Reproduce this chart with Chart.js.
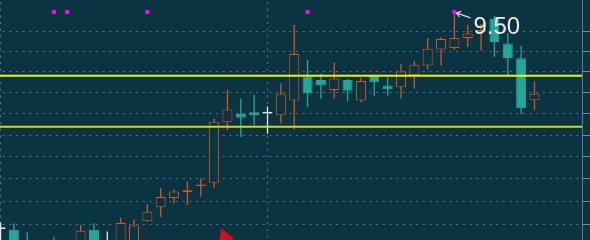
<!DOCTYPE html>
<html>
<head>
<meta charset="utf-8">
<script src="https://cdn.jsdelivr.net/npm/chart.js@4.4.0/dist/chart.umd.min.js"></script>
<style>
  html, body { margin: 0; padding: 0; background: #0a3441; }
  #wrap { width: 590px; height: 240px; }
</style>
</head>
<body>
<div id="wrap"><canvas id="chart" width="590" height="240"></canvas></div>
<script>
// candles, one per bar index
const opens  = [7.976, 7.965, 7.886, 7.873, 7.879, 7.789, 7.853, 7.965, 7.866, 7.879,
                7.873, 8.021, 8.112, 8.173, 8.213, 8.252, 8.275, 8.689, 8.748, 8.759,
                8.757, 8.738, 8.844, 9.017, 8.992, 8.918, 8.992, 8.843, 9.028, 8.952,
                8.938, 9.025, 9.098, 9.216, 9.226, 9.301, 9.348, 9.446, 9.260, 9.151,
                8.845];
const highs  = [8.014, 8.008, 7.950, 7.880, 7.923, 7.879, 7.997, 8.008, 7.955, 8.043,
                8.034, 8.132, 8.240, 8.231, 8.284, 8.304, 8.715, 8.921, 8.857, 8.885,
                8.800, 8.965, 9.401, 9.140, 9.037, 9.120, 8.999, 9.010, 9.030, 9.010,
                9.110, 9.132, 9.301, 9.307, 9.500, 9.401, 9.408, 9.469, 9.338, 9.241,
                8.981];
const lows   = [7.840, 7.828, 7.802, 7.763, 7.815, 7.763, 7.828, 7.841, 7.828, 7.853,
                7.860, 8.018, 8.049, 8.137, 8.127, 8.183, 8.238, 8.634, 8.586, 8.669,
                8.608, 8.680, 8.636, 8.795, 8.858, 8.858, 8.839, 8.832, 8.878, 8.879,
                8.858, 8.928, 9.066, 9.098, 9.213, 9.234, 9.206, 9.160, 9.025, 8.748,
                8.774];
const closes = [7.976, 7.860, 7.841, 7.802, 7.841, 7.853, 7.959, 7.866, 7.866, 8.010,
                7.993, 8.082, 8.179, 8.216, 8.225, 8.263, 8.692, 8.779, 8.721, 8.740,
                8.757, 8.892, 9.182, 8.895, 8.952, 9.002, 8.914, 8.983, 8.974, 8.924,
                9.054, 9.103, 9.221, 9.295, 9.301, 9.335, 9.363, 9.271, 9.153, 8.788,
                8.892];

// horizontal levels
const levels = [9.022, 8.657];

// signal markers
const signalX = [4, 5, 11, 23, 34];
const signalY = [9.50, 9.50, 9.50, 9.50, 9.50];

// sell arrow
const arrowX = [16.80];
const arrowY = [7.916];

// price label
const labelX = 34;
const labelY = 9.50;
const labelText = '9.50';

// axes
const yTicks = [8.00, 8.15, 8.30, 8.45, 8.60, 8.75, 8.90, 9.05, 9.20, 9.35];
const separators = [0, 20];
const yMin = 7.906, yMax = 9.592;
const xMin = -0.04, xMax = 43.56;

const BG = '#0a3441';
const UP = '#d5561f';
const DOWN = '#26a69a';
const DOJI = '#e8e6da';
const GRID = '#587680';

const idx = opens.map((_, i) => i);
const candleColor = idx.map(i => closes[i] > opens[i] ? UP : (closes[i] < opens[i] ? DOWN : DOJI));
const bodyFill = idx.map(i => closes[i] > opens[i] ? BG : candleColor[i]);
// a doji still gets a thin body line
const bodyRange = i => opens[i] === closes[i]
    ? [opens[i] * 0.99935, opens[i] * 1.00065]
    : [opens[i], closes[i]];

const labelPlugin = {
    id: 'priceLabel',
    afterDatasetsDraw(chart) {
        const ctx = chart.ctx;
        const px = chart.scales.x.getPixelForValue(labelX);
        const py = chart.scales.y.getPixelForValue(labelY);
        ctx.save();
        ctx.strokeStyle = '#d8d8cc';
        ctx.lineWidth = 1.2;
        ctx.beginPath();
        ctx.moveTo(px + 2, py + 1);
        ctx.lineTo(px + 16, py + 6);
        ctx.moveTo(px + 2, py + 1);
        ctx.lineTo(px + 7, py - 0.5);
        ctx.moveTo(px + 2, py + 1);
        ctx.lineTo(px + 5, py + 5);
        ctx.stroke();
        ctx.fillStyle = '#efeadb';
        ctx.font = '24px "Liberation Sans", Arial, sans-serif';
        ctx.textBaseline = 'alphabetic';
        ctx.fillText(labelText, px + 19, py + 22.5);
        ctx.restore();
    }
};

const config = {
    type: 'bar',
    data: {
        datasets: [
            {
                type: 'scatter',
                data: signalX.map((x, i) => ({x: x, y: signalY[i]})),
                pointStyle: 'rect',
                pointRadius: 2.8,
                backgroundColor: '#ff00ff',
                borderWidth: 0,
                order: 0
            },
            {
                type: 'scatter',
                data: arrowX.map((x, i) => ({x: x, y: arrowY[i]})),
                pointStyle: 'triangle',
                rotation: -22,
                pointRadius: 10,
                backgroundColor: '#cc1020',
                borderColor: '#8c0c18',
                borderWidth: 1,
                clip: false,
                order: 0
            },
            {
                type: 'line',
                data: [{x: xMin, y: levels[0]}, {x: xMax, y: levels[0]}],
                borderColor: '#f2f200',
                borderWidth: 2,
                pointRadius: 0,
                order: 1
            },
            {
                type: 'line',
                data: [{x: xMin, y: levels[1]}, {x: xMax, y: levels[1]}],
                borderColor: '#d0d628',
                borderWidth: 2,
                pointRadius: 0,
                order: 1
            },
            {
                data: idx.map(i => ({x: i, y: bodyRange(i)})),
                backgroundColor: bodyFill,
                borderColor: candleColor,
                borderWidth: 1,
                borderSkipped: false,
                barThickness: 10,
                grouped: false,
                inflateAmount: 0,
                order: 2
            },
            {
                data: idx.map(i => ({x: i, y: [lows[i], highs[i]]})),
                backgroundColor: candleColor,
                borderWidth: 0,
                barThickness: 1.3,
                grouped: false,
                inflateAmount: 0,
                order: 3
            }
        ]
    },
    options: {
        responsive: false,
        animation: false,
        devicePixelRatio: 1,
        events: [],
        layout: { padding: 0, autoPadding: false },
        plugins: {
            legend: { display: false },
            tooltip: { enabled: false }
        },
        scales: {
            x: {
                type: 'linear',
                min: xMin,
                max: xMax,
                offset: false,
                afterBuildTicks: scale => {
                    scale.ticks = separators.map(v => ({value: v}));
                },
                ticks: { display: false },
                grid: {
                    offset: false,
                    color: GRID,
                    drawTicks: false
                },
                border: { display: false, dash: [2, 4.67], dashOffset: -2 }
            },
            y: {
                type: 'logarithmic',
                position: 'right',
                min: yMin,
                max: yMax,
                afterBuildTicks: scale => {
                    scale.ticks = yTicks.map(v => ({value: v}));
                },
                ticks: { display: false },
                grid: {
                    color: GRID,
                    drawTicks: true,
                    tickLength: 8,
                    tickColor: '#6c8890',
                    tickBorderDash: []
                },
                border: { display: true, color: '#5e7c85', width: 1, dash: [2, 4.67], dashOffset: -2.7 }
            }
        }
    },
    plugins: [labelPlugin]
};

new Chart(document.getElementById('chart'), config);
</script>
</body>
</html>
